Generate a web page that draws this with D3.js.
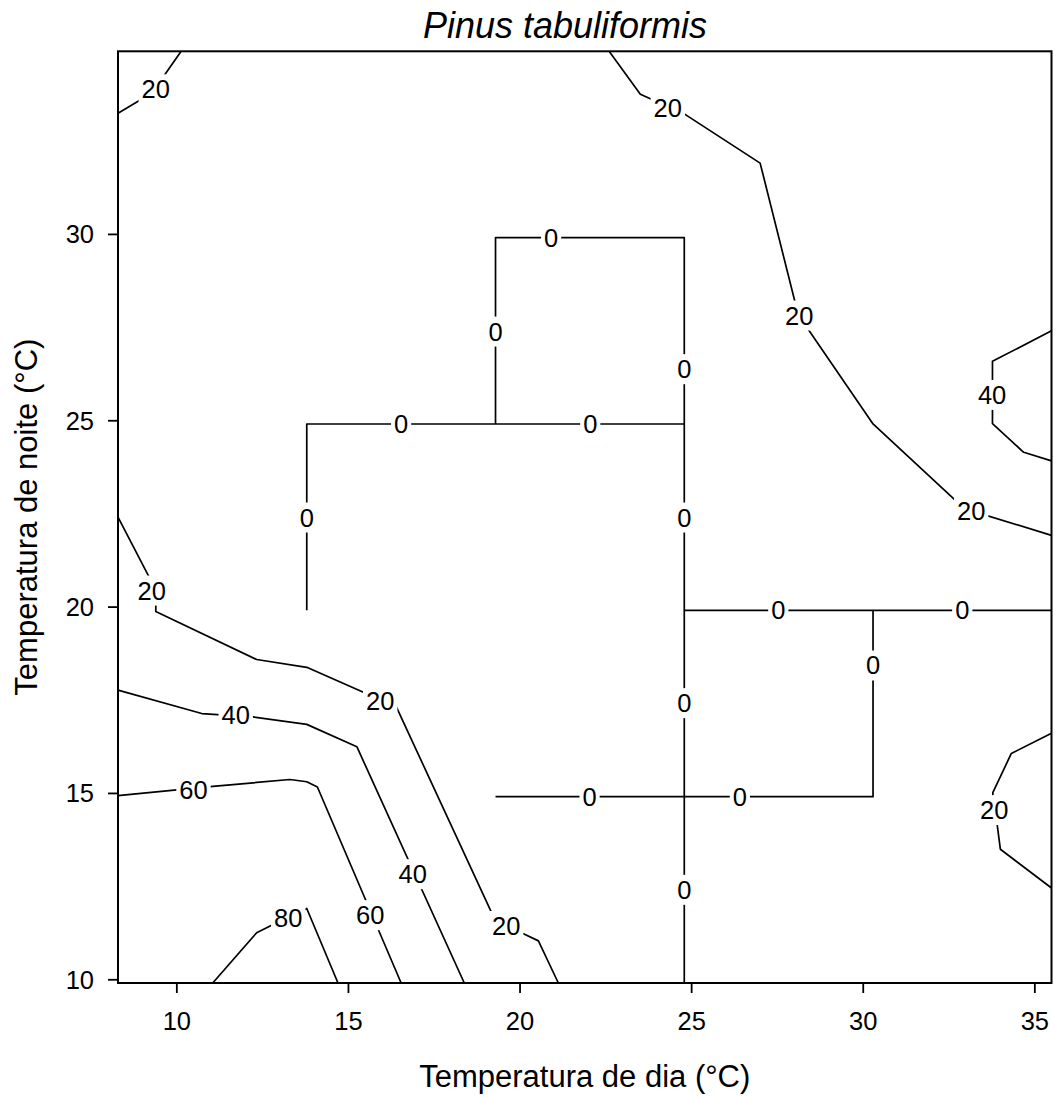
<!DOCTYPE html>
<html>
<head>
<meta charset="utf-8">
<style>
  body { margin: 0; background: #fff; }
  text { font-family: "Liberation Sans", Arial, Helvetica, sans-serif; fill: #000; }
</style>
</head>
<body>
<div id="chart"></div>
<script src="https://d3js.org/d3.v7.min.js"></script>
<script>
// Axis ticks
var xTicks = [10, 15, 20, 25, 30, 35];
var yTicks = [10, 15, 20, 25, 30];

// Contour lines, [day temp, night temp] pairs
// level 0
var c0a = [[19.3, 24.9], [19.3, 29.9], [24.8, 29.9], [24.8, 9.9]];
var c0b = [[13.8, 19.9], [13.8, 24.9], [24.8, 24.9]];
var c0c = [[24.8, 19.9], [35.5, 19.9]];
var c0d = [[30.3, 19.9], [30.3, 14.9], [19.3, 14.9]];
// level 20
var c20a = [[8.3, 33.24], [9.29, 33.78], [10.14, 34.9]];
var c20b = [[22.61, 34.9], [23.52, 33.75], [24.8, 33.22], [27.01, 31.9], [28.12, 27.83],
            [30.3, 24.9], [32.96, 22.63], [35.5, 21.91]];
var c20c = [[35.5, 16.6], [34.33, 16.06], [33.79, 15.01], [33.8, 14.6], [33.92, 14.13],
            [34.01, 13.49], [35.5, 12.45]];
var c20d = [[8.3, 22.4], [9.17, 20.86], [9.41, 20.4], [9.4, 19.87], [12.34, 18.58],
            [13.8, 18.37], [15.45, 17.7], [16.41, 17.31], [19.29, 11.58], [20.1, 11.23],
            [20.55, 11.03], [21.13, 9.9]];
// level 40
var c40a = [[35.5, 27.4], [33.78, 26.58], [33.78, 24.91], [34.69, 24.14], [35.5, 23.91]];
var c40b = [[8.3, 17.76], [10.74, 17.13], [12.23, 17.04], [13.8, 16.84], [15.26, 16.24], [18.39, 9.9]];
// level 60
var c60 = [[8.3, 14.93], [10.98, 15.17], [13.31, 15.36], [13.8, 15.3], [14.11, 15.16], [16.55, 9.9]];
// level 80
var c80 = [[11.06, 9.9], [12.34, 11.25], [12.82, 11.47], [13.8, 11.9], [14.71, 9.9]];

var contourLines = [c0a, c0b, c0c, c0d, c20a, c20b, c20c, c20d, c40a, c40b, c60, c80];

// Contour labels [x, y, level]
var labels = [
  [20.92, 29.9, 0], [19.3, 27.38, 0], [24.8, 26.37, 0], [16.55, 24.9, 0], [22.06, 24.9, 0],
  [13.8, 22.39, 0], [24.8, 22.39, 0], [27.54, 19.9, 0], [32.9, 19.9, 0], [30.3, 18.42, 0],
  [22.04, 14.9, 0], [26.42, 14.9, 0], [24.8, 17.41, 0], [24.8, 12.4, 0],
  [9.4, 33.88, 20], [24.32, 33.37, 20], [28.15, 27.81, 20], [33.16, 22.57, 20],
  [33.83, 14.54, 20], [9.28, 20.43, 20], [15.94, 17.46, 20], [19.61, 11.43, 20],
  [33.77, 25.68, 40], [11.73, 17.1, 40], [16.89, 12.82, 40],
  [10.5, 15.09, 60], [15.65, 11.72, 60],
  [13.26, 11.65, 80]
];

var width = 1055, height = 1098;
var plotL = 118, plotR = 1051.5, plotT = 51.3, plotB = 983;

var svg = d3.select("#chart")
    .append("svg")
    .attr("width", width)
    .attr("height", height);

var x = d3.scaleLinear().domain([8.3, 35.5]).range([plotL, plotR]);
var y = d3.scaleLinear().domain([9.9, 34.9]).range([plotB, plotT]);

var line = d3.line()
    .x(function(d) { return x(d[0]); })
    .y(function(d) { return y(d[1]); });

// contour lines
svg.append("g")
    .selectAll("path")
    .data(contourLines)
    .enter()
    .append("path")
    .attr("d", line)
    .attr("fill", "none")
    .attr("stroke", "#000")
    .attr("stroke-width", 1.7)
    .attr("stroke-linejoin", "round");

// labels, with a white gap cut in the line
var lab = svg.append("g")
    .selectAll("g")
    .data(labels)
    .enter()
    .append("g")
    .attr("transform", function(d) { return "translate(" + x(d[0]) + "," + y(d[1]) + ")"; });

lab.append("text")
    .attr("text-anchor", "middle")
    .attr("y", 9)
    .attr("font-size", 25.5)
    .text(function(d) { return d[2]; });

lab.each(function() {
    var g = d3.select(this);
    var w = g.select("text").node().getComputedTextLength();
    g.insert("rect", "text")
        .attr("x", -w / 2 - 3)
        .attr("y", -15)
        .attr("width", w + 6)
        .attr("height", 30)
        .attr("fill", "#fff");
});

// axes
var xAxis = svg.append("g")
    .attr("transform", "translate(0," + plotB + ")")
    .call(d3.axisBottom(x).tickValues(xTicks).tickSize(10).tickFormat(d3.format("d")));
xAxis.select(".domain").remove();
xAxis.selectAll("line").attr("stroke", "#000").attr("stroke-width", 1.8);
xAxis.selectAll("text")
    .attr("y", 47)
    .attr("dy", null)
    .attr("font-size", 25.5)
    .attr("font-family", null)
    .attr("fill", "#000");

var yAxis = svg.append("g")
    .attr("transform", "translate(" + plotL + ",0)")
    .call(d3.axisLeft(y).tickValues(yTicks).tickSize(10).tickFormat(d3.format("d")));
yAxis.select(".domain").remove();
yAxis.selectAll("line").attr("stroke", "#000").attr("stroke-width", 1.8);
yAxis.selectAll("text")
    .attr("x", -24)
    .attr("dy", 9)
    .attr("font-size", 25.5)
    .attr("font-family", null)
    .attr("fill", "#000");

// frame
svg.append("rect")
    .attr("x", plotL)
    .attr("y", plotT)
    .attr("width", plotR - plotL)
    .attr("height", plotB - plotT)
    .attr("fill", "none")
    .attr("stroke", "#000")
    .attr("stroke-width", 2);

// titles
svg.append("text")
    .attr("x", 565)
    .attr("y", 38)
    .attr("text-anchor", "middle")
    .attr("font-size", 36)
    .attr("font-style", "italic")
    .text("Pinus tabuliformis");

svg.append("text")
    .attr("x", (plotL + plotR) / 2)
    .attr("y", 1087)
    .attr("text-anchor", "middle")
    .attr("font-size", 31)
    .text("Temperatura de dia (°C)");

svg.append("text")
    .attr("transform", "translate(37," + (plotT + plotB) / 2 + ") rotate(-90)")
    .attr("text-anchor", "middle")
    .attr("font-size", 31)
    .text("Temperatura de noite (°C)");
</script>
</body>
</html>
